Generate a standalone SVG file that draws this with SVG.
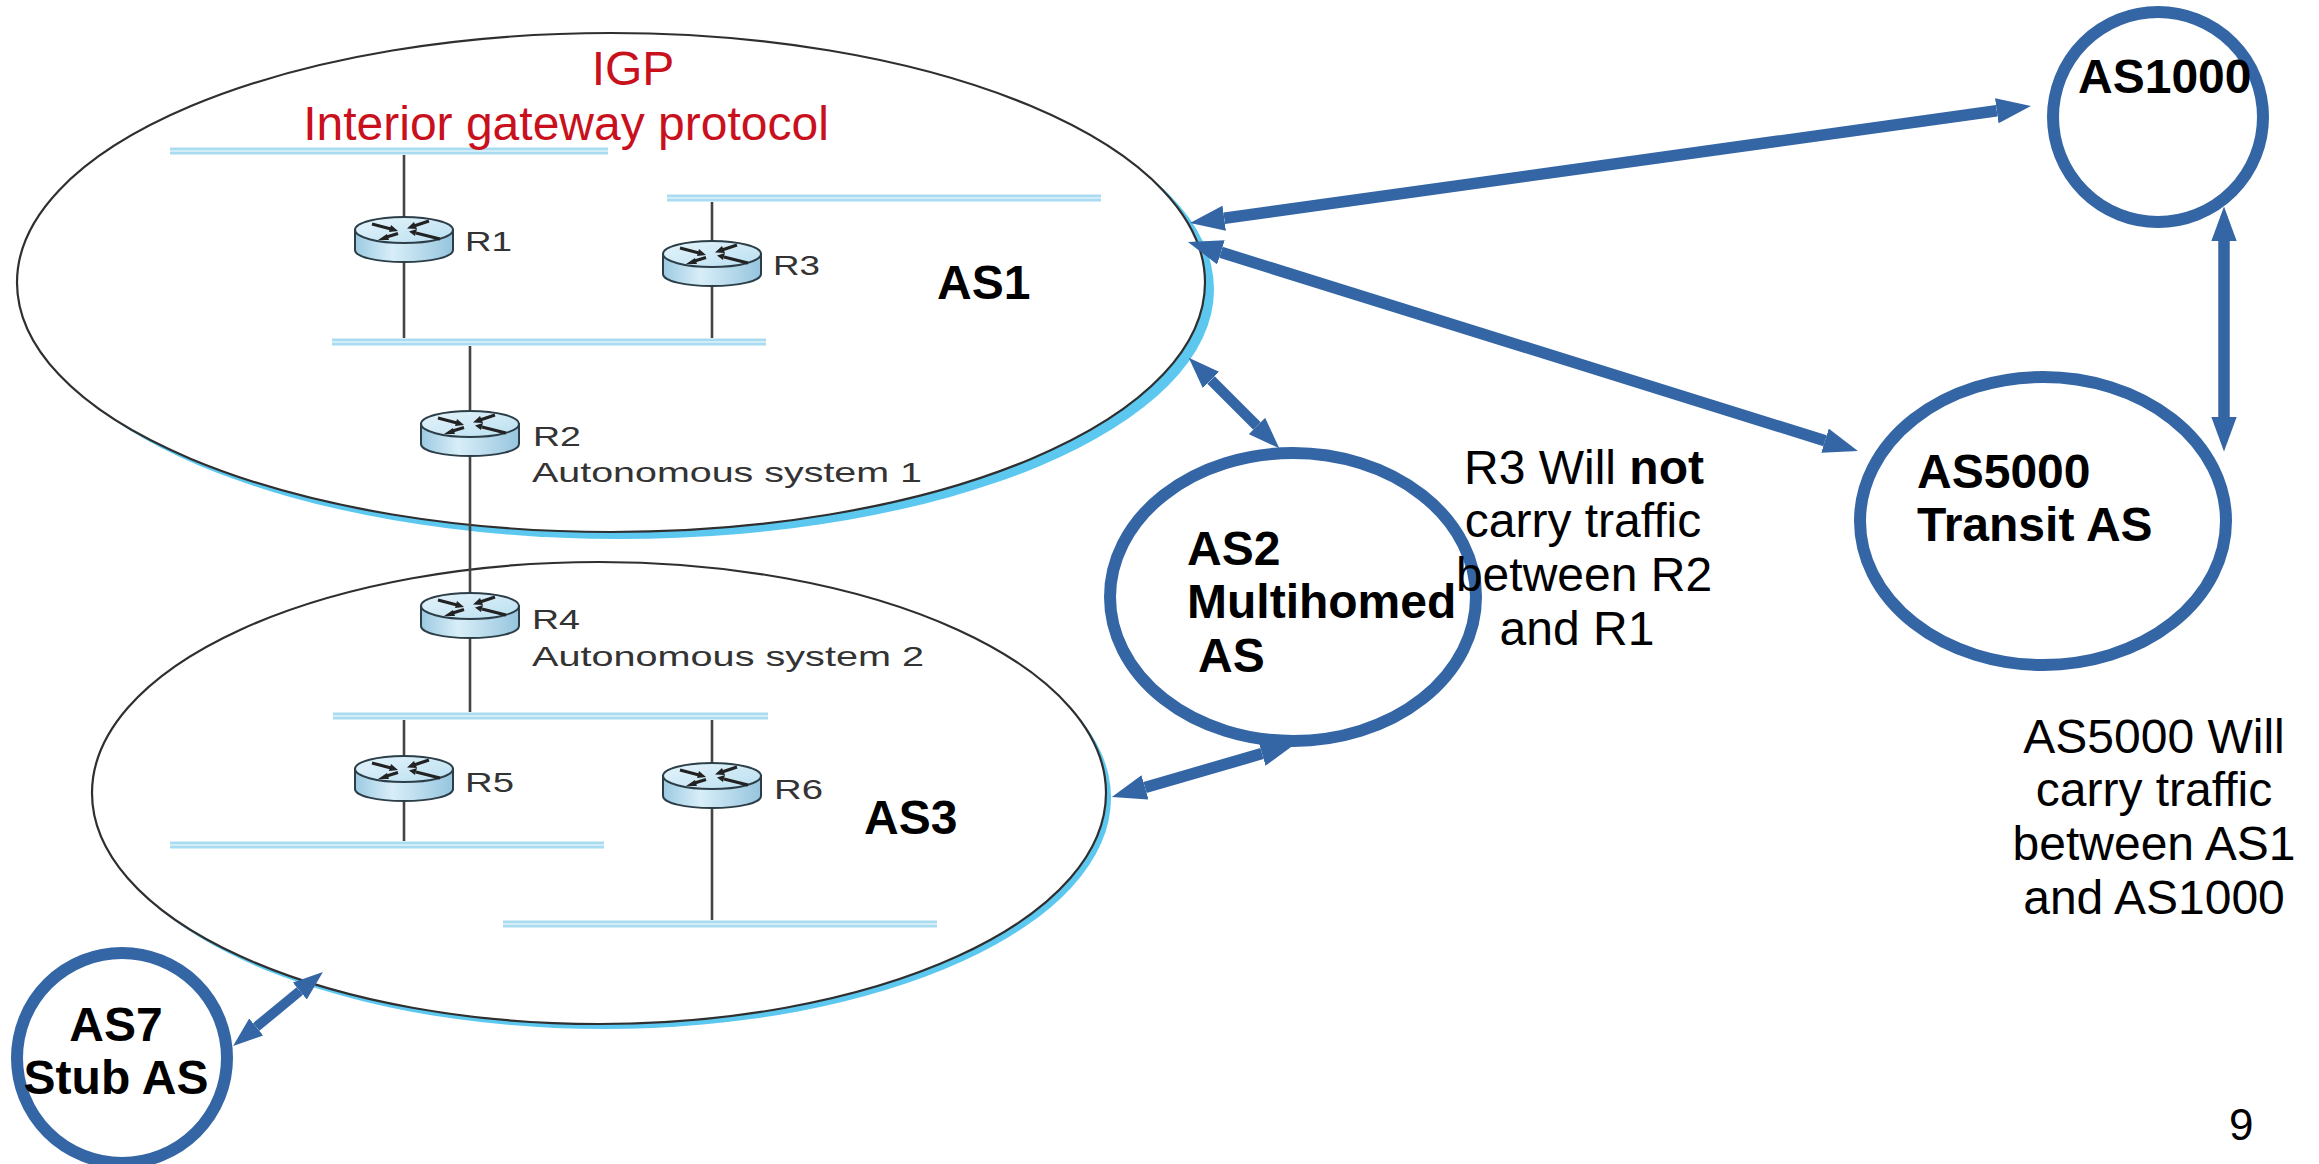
<svg xmlns="http://www.w3.org/2000/svg" width="2319" height="1164" viewBox="0 0 2319 1164">
<style>
text{font-family:"Liberation Sans",Arial,sans-serif;font-size:48px;fill:#000}
.b{font-weight:bold}
.m{text-anchor:middle}
.igp{fill:#c9111e}
.fig{font-size:28px;fill:#333}
.bus1{stroke:#a9dcf0;stroke-width:7;fill:none}
.bus2{stroke:#dff2fa;stroke-width:1.6;fill:none}
.wire{stroke:#444;stroke-width:2.6;fill:none}
.ring{fill:#fff;stroke:#3465a4;stroke-width:12}
.as{fill:#fff;stroke:#2f2f2f;stroke-width:2.2}
.halo{fill:#5cc8f0}
.arrow{stroke:#3465a4;stroke-width:11.5;fill:none;marker-start:url(#ah);marker-end:url(#ah)}
.arrow.t{stroke-width:10}
.arrow.u{stroke-width:10.5}
</style>
<defs>
<marker id="ah" viewBox="0 -1.1 3 2.2" markerWidth="3" markerHeight="2.2" refX="0" refY="0" orient="auto-start-reverse" markerUnits="strokeWidth"><path d="M0-1.1L3 0L0 1.1z" fill="#3465a4"/></marker>
<linearGradient id="rb" x1="0" x2="1" y1="0" y2="0"><stop offset="0" stop-color="#9ccae2"/><stop offset=".38" stop-color="#d8eef8"/><stop offset="1" stop-color="#96c5de"/></linearGradient>
<linearGradient id="rt" x1="0" x2="1" y1="0" y2="1"><stop offset="0" stop-color="#e6f4fb"/><stop offset="1" stop-color="#b9dff0"/></linearGradient>
<g id="router">
<path d="M-49 13V33C-49 40-27 45 0 45S49 40 49 33V13z" fill="url(#rb)" stroke="#2c3e48" stroke-width="2"/>
<ellipse cx="0" cy="13" rx="49" ry="13" fill="url(#rt)" stroke="#2c3e48" stroke-width="2"/>
<path d="M-32 7L-13 12M25 4L10 9M-19 20.5L-6 16.5M36 22L12 16" stroke="#222" stroke-width="3.2" fill="none"/>
<path d="M-6 14L-13 8L-15 15zM3 11.5L10 5L13 12zM-26 23L-17 17L-15 23zM5 14.5L13 12L11 19z" fill="#222"/>
</g>
</defs>
<g id="as1"><ellipse class="halo" cx="620" cy="289.500" rx="594" ry="249.500"/><ellipse class="as" cx="611" cy="282.500" rx="594" ry="249.500"/></g>
<g id="as3"><ellipse class="halo" cx="604" cy="798" rx="507" ry="231"/><ellipse class="as" cx="599" cy="793" rx="507" ry="231"/></g>
<g id="networks">
<path class="bus1" d="M170 151H608M667 198H1101M332 342H766M333 716H768M170 845H604M503 924H937"/>
<path class="bus2" d="M170 151H608M667 198H1101M332 342H766M333 716H768M170 845H604M503 924H937"/>
<path class="wire" d="M404 155V338M712 202V338M470 346V712M404 720V841M712 720V920"/>
</g>
<g id="r1"><use href="#router" x="404" y="217"/><text class="fig" x="465" y="251" textLength="47" lengthAdjust="spacingAndGlyphs">R1</text></g>
<g id="r3"><use href="#router" x="712" y="241"/><text class="fig" x="773" y="275" textLength="47" lengthAdjust="spacingAndGlyphs">R3</text></g>
<g id="r2"><use href="#router" x="470" y="411"/><text class="fig" x="533" y="446" textLength="48" lengthAdjust="spacingAndGlyphs">R2</text><text class="fig" x="532" y="482" textLength="390" lengthAdjust="spacingAndGlyphs">Autonomous system 1</text></g>
<g id="r4"><use href="#router" x="470" y="593"/><text class="fig" x="532" y="629" textLength="48" lengthAdjust="spacingAndGlyphs">R4</text><text class="fig" x="532" y="666" textLength="392" lengthAdjust="spacingAndGlyphs">Autonomous system 2</text></g>
<g id="r5"><use href="#router" x="404" y="756"/><text class="fig" x="465" y="792" textLength="49" lengthAdjust="spacingAndGlyphs">R5</text></g>
<g id="r6"><use href="#router" x="712" y="763"/><text class="fig" x="774" y="799" textLength="49" lengthAdjust="spacingAndGlyphs">R6</text></g>
<g id="labels">
<text class="igp m" x="633" y="85">IGP</text>
<text class="igp m" x="566" y="140">Interior gateway protocol</text>
<text class="b" x="937" y="299">AS1</text>
<text class="b" x="864" y="834">AS3</text>
</g>
<g id="as1000"><circle class="ring" cx="2158" cy="117" r="105"/><text class="b" x="2078" y="93">AS1000</text></g>
<g id="as5000"><ellipse class="ring" cx="2043" cy="521" rx="183" ry="144"/><text class="b" x="1917" y="488">AS5000</text><text class="b" x="1917" y="541">Transit AS</text></g>
<g id="as2"><ellipse class="ring" cx="1293" cy="597" rx="183" ry="144"/><text class="b" x="1187" y="565">AS2</text><text class="b" x="1187" y="618">Multihomed</text><text class="b" x="1198" y="672">AS</text></g>
<g id="as7"><circle class="ring" cx="122" cy="1058" r="105"/><text class="b m" x="116" y="1041">AS7</text><text class="b m" x="116" y="1094">Stub AS</text></g>
<g id="connectors">
<path class="arrow" d="M1224.200 218.250L1996.800 110.750"/>
<path class="arrow" d="M1220.900 252.300L1825 440.700"/>
<path class="arrow u" d="M1211 380L1257 426"/>
<path class="arrow" d="M1145 787.400L1262 753.600"/>
<path class="arrow" d="M2224 241V417"/>
<path class="arrow t" d="M256.200 1027L299.800 991"/>
</g>
<g id="notes">
<text class="m" x="1584" y="484">R3 Will <tspan class="b">not</tspan></text>
<text class="m" x="1583" y="537">carry traffic</text>
<text class="m" x="1584" y="591">between R2</text>
<text class="m" x="1577" y="645">and R1</text>
<text class="m" x="2154" y="753">AS5000 Will</text>
<text class="m" x="2154" y="806">carry traffic</text>
<text class="m" x="2154" y="860">between AS1</text>
<text class="m" x="2154" y="914">and AS1000</text>
<text x="2229" y="1140" style="font-size:44px">9</text>
</g>
</svg>
